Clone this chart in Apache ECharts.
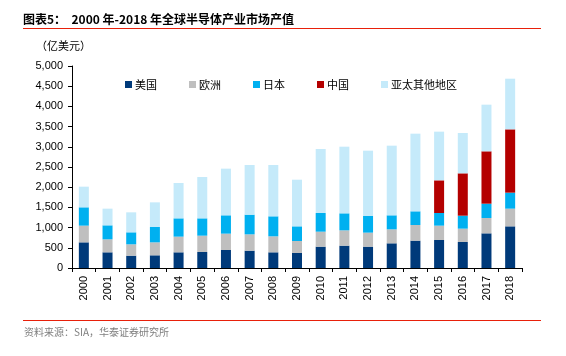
<!DOCTYPE html>
<html>
<head>
<meta charset="utf-8">
<script src="https://cdn.jsdelivr.net/npm/echarts@6/dist/echarts.min.js"></script>
<style>html,body{margin:0;padding:0;background:#fff;}#c{width:566px;height:356px;}</style>
</head>
<body>
<div id="c"></div>
<script>
var years = ['2000','2001','2002','2003','2004','2005','2006','2007','2008','2009','2010','2011','2012','2013','2014','2015','2016','2017','2018'];
var usa    = [635,388,305,314,388,396,446,429,388,371,528,553,528,611,677,693,644,858,1031];
var europe = [413,322,281,321,388,404,404,404,396,297,371,379,347,346,387,355,330,380,438];
var japan  = [454,346,297,380,453,429,454,487,495,363,462,421,412,347,339,313,321,354,396];
var china  = [null,null,null,null,null,null,null,null,null,null,null,null,null,null,null,809,1048,1296,1567];
var asiaOther = [511,413,495,610,875,1023,1155,1230,1271,1155,1585,1650,1617,1724,1922,1205,999,1155,1254];
var seriesNames = ['美国','欧洲','日本','中国','亚太其他地区'];
var yTicks = [0,500,1000,1500,2000,2500,3000,3500,4000,4500,5000];

var colors = ['#003A7A','#BFBFBF','#00B0F0','#B40000','#C5EAFA'];
var dataSets = [usa, europe, japan, china, asiaOther];
var cjk = '"Noto Sans CJK SC", sans-serif';
var latin = '"Liberation Sans", Arial, sans-serif';

var chart = echarts.init(document.getElementById('c'), null, {renderer:'canvas'});
chart.setOption({
  animation: false,
  backgroundColor: '#fff',
  color: colors,
  grid: {left: 72, right: 44, top: 66, bottom: 88, containLabel: false},
  legend: {
    data: seriesNames,
    left: 120, top: 74,
    icon: 'rect', itemWidth: 7, itemHeight: 7, itemGap: 32,
    textStyle: {fontFamily: cjk, fontSize: 11, color: '#000', padding: [0,0,0,-2]}
  },
  xAxis: {
    type: 'category',
    data: years,
    axisLine: {lineStyle: {color: '#000', width: 1}},
    axisTick: {show: true, alignWithLabel: false, length: 4, lineStyle: {color: '#000'}},
    axisLabel: {rotate: 90, margin: 8, fontFamily: latin, fontSize: 11, color: '#000', interval: 0}
  },
  yAxis: {
    type: 'value', min: yTicks[0], max: yTicks[yTicks.length-1], interval: 500,
    axisLine: {show: true, lineStyle: {color: '#000', width: 1}},
    axisTick: {show: true, length: 4, lineStyle: {color: '#000'}},
    splitLine: {show: false},
    axisLabel: {fontFamily: latin, fontSize: 11, color: '#000', margin: 9,
      formatter: function(v){ return v.toLocaleString('en-US'); }}
  },
  series: seriesNames.map(function(n, i){
    return {name: n, type: 'bar', stack: 'total', barWidth: 10, data: dataSets[i],
      itemStyle: {color: colors[i]}};
  }),
  graphic: [
    {type: 'text', left: 23, top: 13, style: {text: '图表5：  2000 年-2018 年全球半导体产业市场产值', font: 'bold 12px ' + cjk, fill: '#000'}},
    {type: 'line', shape: {x1: 23, y1: 28.5, x2: 541, y2: 28.5}, style: {stroke: '#E8200A', lineWidth: 1.2}},
    {type: 'text', left: 36, top: 40, style: {text: '（亿美元）', font: '11px ' + cjk, fill: '#000'}},
    {type: 'line', shape: {x1: 23, y1: 320.5, x2: 541, y2: 320.5}, style: {stroke: '#E8200A', lineWidth: 1.2}},
    {type: 'text', left: 24, top: 327, style: {text: '资料来源：SIA，华泰证券研究所', font: '10px ' + cjk, fill: '#7F7F7F'}}
  ]
});
</script>
</body>
</html>
